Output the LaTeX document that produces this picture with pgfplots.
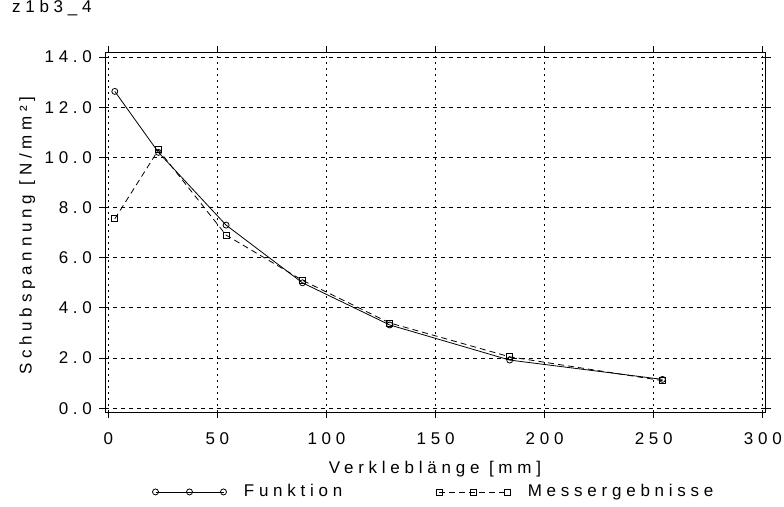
\documentclass[border=0pt]{standalone}
\usepackage{fontspec}
\setmainfont[LetterSpace=28]{Liberation Sans}
\usepackage{pgfplots}
\pgfplotsset{compat=1.18}

\begin{document}
\begin{tikzpicture}
\begin{axis}[
  name=ax,
  scale only axis,
  width=330pt, height=180pt,
  xmin=-1.5, xmax=301,
  ymin=-0.15, ymax=14.2,
  xtick={0,50,...,300},
  ytick={0,2,...,14},
  yticklabel style={/pgf/number format/.cd, fixed, fixed zerofill, precision=1},
  /pgf/number format/assume math mode=true,
  tick label style={font=\fontsize{8.5}{10}\selectfont},
  label style={font=\fontsize{8.5}{10}\selectfont},
  tick align=outside,
  tick style={black, thin},
  major tick length=3pt,
  grid=major,
  x grid style={black, thin, dash pattern=on 1pt off 2pt},
  y grid style={black, thin, dash pattern=on 2pt off 2pt},
  axis line style={black, thin},
  xlabel={Verkleblänge [mm]},
  ylabel={Schubspannung [N/mm²]},
  xlabel style={at={(axis description cs:0.5,-0.158)}, anchor=center},
  ylabel style={at={(axis description cs:-0.118,0.49)}, anchor=center},
  xticklabel style={yshift=-4pt},
  legend style={draw=none, fill=none, at={(axis description cs:0.5,-0.222)}, anchor=center,
    legend columns=2, font=\fontsize{8.5}{10}\selectfont,
    /tikz/every even column/.append style={column sep=45pt}},
  legend image code/.code={\draw[#1] plot coordinates {(0pt,0pt) (17pt,0pt) (34pt,0pt)};
    \path (42pt,0pt);},
  title={z1b3\_4},
  title style={at={(0,1)}, anchor=west, xshift=-50pt, yshift=16pt, font=\fontsize{8.5}{10}\selectfont},
]
\addplot[black, thin, mark=o, mark size=1.5pt] coordinates {
  (3,12.63) (23,10.2) (54,7.3) (89,5.0) (129,3.32) (184,1.92) (254,1.15)
};
\addlegendentry{Funktion}
\addplot[black, thin, densely dashed, mark=square, mark size=1.5pt, mark options={solid}] coordinates {
  (3,7.55) (23,10.3) (54,6.9) (89,5.1) (129,3.4) (184,2.05) (254,1.1)
};
\addlegendentry{Messergebnisse}
\end{axis}
\pgfresetboundingbox
\path[use as bounding box] ([shift={(-52.5pt,-47pt)}]ax.south west) rectangle ([shift={(9.5pt,26pt)}]ax.north east);
\end{tikzpicture}
\end{document}
